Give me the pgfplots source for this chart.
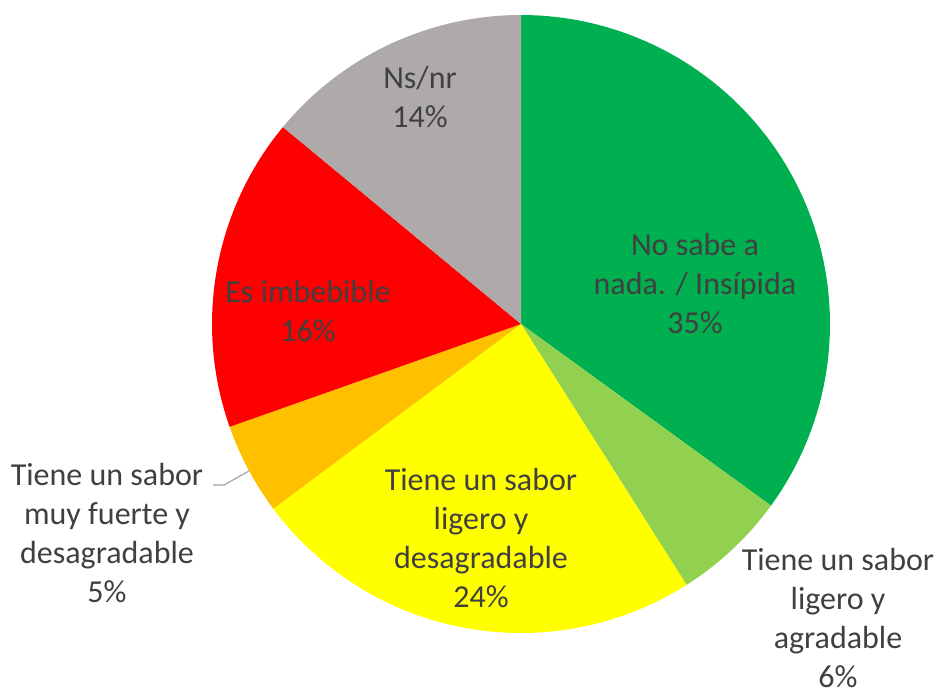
\documentclass[border=0pt]{standalone}
\usepackage{pgfplots}
\pgfplotsset{compat=1.18}
\usepackage{pgfplotstable}
\usepackage{fontspec}
\setmainfont{Carlito}
\definecolor{cA}{HTML}{00B050}
\definecolor{cB}{HTML}{92D050}
\definecolor{cC}{HTML}{FFFF00}
\definecolor{cD}{HTML}{FFC000}
\definecolor{cE}{HTML}{FF0000}
\definecolor{cF}{HTML}{AEAAAA}
\definecolor{txt}{HTML}{404040}
\tikzset{lbl/.style={font=\fontsize{16}{19.5}\selectfont, text=txt, align=center, inner sep=0pt}}
\pgfplotstableread{
pct
35.0
6.0
23.8
4.8
16.4
14.0
}\piedata
\pgfplotstablegetelem{0}{pct}\of\piedata\let\pA\pgfplotsretval
\pgfplotstablegetelem{1}{pct}\of\piedata\let\pB\pgfplotsretval
\pgfplotstablegetelem{2}{pct}\of\piedata\let\pC\pgfplotsretval
\pgfplotstablegetelem{3}{pct}\of\piedata\let\pD\pgfplotsretval
\pgfplotstablegetelem{4}{pct}\of\piedata\let\pE\pgfplotsretval
\pgfplotstablegetelem{5}{pct}\of\piedata\let\pF\pgfplotsretval
\pgfmathsetmacro\aZ{90}
\pgfmathsetmacro\aA{\aZ-3.6*\pA}
\pgfmathsetmacro\aB{\aA-3.6*\pB}
\pgfmathsetmacro\aC{\aB-3.6*\pC}
\pgfmathsetmacro\aD{\aC-3.6*\pD}
\pgfmathsetmacro\aE{\aD-3.6*\pE}
\pgfmathsetmacro\aF{\aE-3.6*\pF}
\def\cx{521}
\def\cy{324}
\def\rr{309}
\begin{document}
\begin{tikzpicture}
\begin{axis}[
  scale only axis, width=470.5pt, height=347pt,
  xmin=0, xmax=941, ymin=0, ymax=694, y dir=reverse,
  hide axis, clip=false,
]
\addplot[draw=none, forget plot] coordinates {(0,0) (941,694)};
\addplot[fill=cA, draw=none, domain=\aA:\aZ, samples=80, variable=\t] ({\cx+\rr*cos(\t)},{\cy-\rr*sin(\t)}) -- (axis cs:\cx,\cy) -- cycle;
\addplot[fill=cB, draw=none, domain=\aB:\aA, samples=30, variable=\t] ({\cx+\rr*cos(\t)},{\cy-\rr*sin(\t)}) -- (axis cs:\cx,\cy) -- cycle;
\addplot[fill=cC, draw=none, domain=\aC:\aB, samples=60, variable=\t] ({\cx+\rr*cos(\t)},{\cy-\rr*sin(\t)}) -- (axis cs:\cx,\cy) -- cycle;
\addplot[fill=cD, draw=none, domain=\aD:\aC, samples=30, variable=\t] ({\cx+\rr*cos(\t)},{\cy-\rr*sin(\t)}) -- (axis cs:\cx,\cy) -- cycle;
\addplot[fill=cE, draw=none, domain=\aE:\aD, samples=50, variable=\t] ({\cx+\rr*cos(\t)},{\cy-\rr*sin(\t)}) -- (axis cs:\cx,\cy) -- cycle;
\addplot[fill=cF, draw=none, domain=\aF:\aE, samples=50, variable=\t] ({\cx+\rr*cos(\t)},{\cy-\rr*sin(\t)}) -- (axis cs:\cx,\cy) -- cycle;
\addplot[color=black!35, line width=0.6pt] coordinates {(213,485) (224,485) (249,471)};
\node[lbl] at (axis cs:695,284) {No sabe a\\nada. / Insípida\\35\%};
\node[lbl] at (axis cs:420,97) {Ns/nr\\14\%};
\node[lbl] at (axis cs:308,311) {Es imbebible\\16\%};
\node[lbl] at (axis cs:481,538) {Tiene un sabor\\ligero y\\desagradable\\24\%};
\node[lbl] at (axis cs:107,533) {Tiene un sabor\\muy fuerte y\\desagradable\\5\%};
\node[lbl] at (axis cs:838,618) {Tiene un sabor\\ligero y\\agradable\\6\%};
\end{axis}
\end{tikzpicture}
\end{document}
